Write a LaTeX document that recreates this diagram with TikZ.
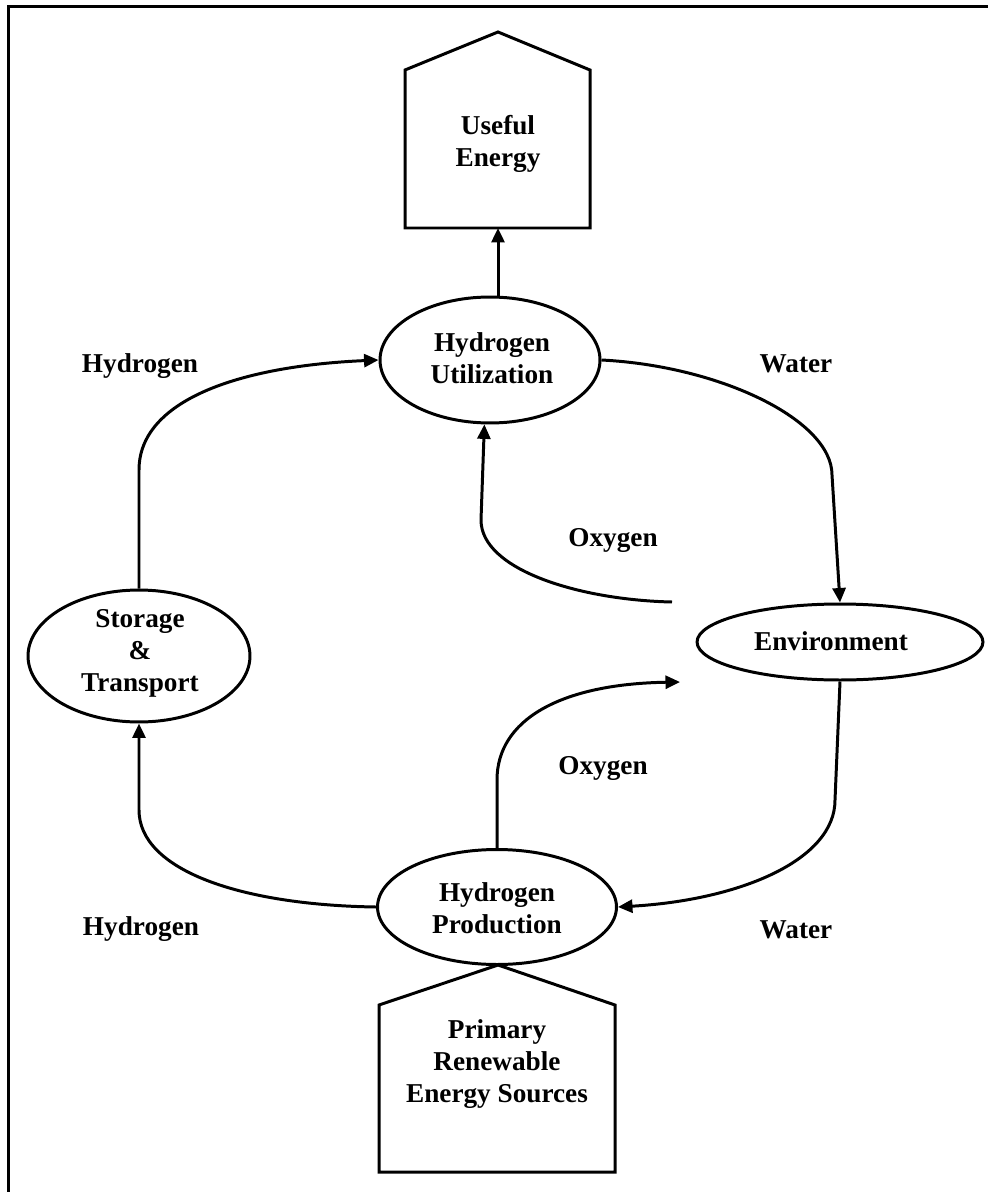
\documentclass[tikz,border=0pt]{standalone}
\usepackage{fontspec}
\setmainfont{Liberation Serif}
\usetikzlibrary{arrows.meta,shapes.geometric}
\tikzset{
  ln/.style={line width=1.7pt, line join=miter},
  ell/.style={ln, draw, ellipse, inner sep=0pt},
  txt/.style={font=\fontsize{15.5}{18.2}\selectfont\bfseries, align=center, inner sep=0pt},
  arr/.style={ln, -{Triangle[length=0.29cm,width=0.26cm]}},
}
\begin{document}
\begin{tikzpicture}[x=0.02cm,y=-0.02cm]
\useasboundingbox (0,0) rectangle (988,1192);
% border (left and top only)
\draw[line width=1.7pt] (8.5,1192) -- (8.5,6.5) -- (988,6.5);

% Useful Energy pentagon
\draw[ln] (405,228) -- (405,70) -- (498,32) -- (590,70) -- (590,228) -- cycle;
\coordinate (uebot) at (498,228);
\node[txt] (uetxt) at (498,144) {Useful\\Energy};

% Primary Renewable Energy Sources pentagon
\draw[ln] (379,1172) -- (379,1005) -- (498,965) -- (615,1005) -- (615,1172) -- cycle;
\node[txt] (prtxt) at (497,1064) {Primary\\Renewable\\Energy Sources};

% ellipses
\node[ell, minimum width=4.4cm, minimum height=2.52cm] (util) at (490,360) {};
\node[txt] (utiltxt) at (492,358) {Hydrogen\\Utilization};

\node[ell, minimum width=4.44cm, minimum height=2.64cm] (stor) at (139,656) {};
\node[txt] (stortxt) at (140,653) {Storage\\\&\\Transport};

\node[ell, minimum width=5.72cm, minimum height=1.52cm] (env) at (840,642) {};
\node[txt] (envtxt) at (831,641) {Environment};

\node[ell, minimum width=4.78cm, minimum height=2.3cm] (prod) at (497,907) {};
\node[txt] (prodtxt) at (497,908) {Hydrogen\\Production};

% connectors
\draw[arr] (util.north -| uebot) -- (uebot);
\draw[arr] (stor.north) -- (139,470) .. controls (139,400) and (240,366) .. (util.west);
\draw[arr] (util.east) .. controls (720,366) and (832,420) .. (832,475) -- (env.north);
\coordinate (oxfree) at (672,602);
\draw[arr] (oxfree) .. controls (580,600) and (481,570) .. (481,520) -- (util.265);
\coordinate (oxtip) at (680,682);
\draw[arr] (prod.north) -- (497,780) .. controls (497,720) and (560,684) .. (oxtip);
\draw[arr] (env.south) -- (835,800) .. controls (835,860) and (740,900) .. (prod.east);
\draw[arr] (prod.west) .. controls (240,905) and (139,870) .. (139,810) -- (stor.south);

% labels
\node[txt] (lh1) at (140,366) {Hydrogen};
\node[txt] (lw1) at (796,364) {Water};
\node[txt] (lo1) at (613,540) {Oxygen};
\node[txt] (lo2) at (603,768) {Oxygen};
\node[txt] (lh2) at (141,929) {Hydrogen};
\node[txt] (lw2) at (796,930) {Water};
\end{tikzpicture}
\end{document}
